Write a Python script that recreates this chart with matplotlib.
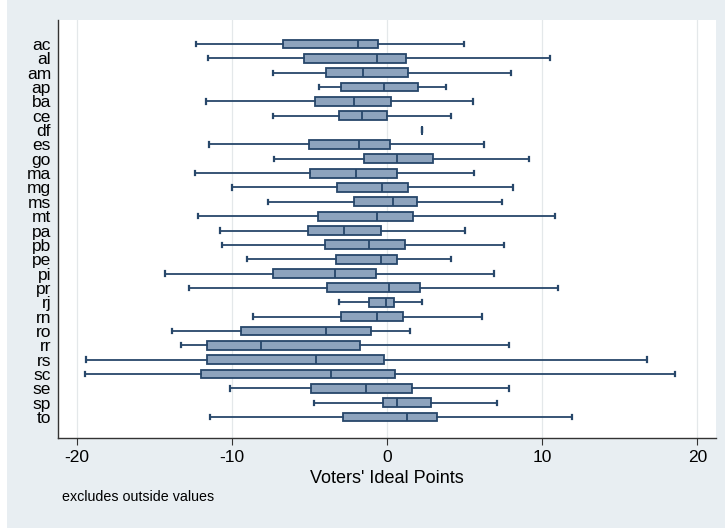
import matplotlib
matplotlib.use("Agg")
import matplotlib.pyplot as plt
from matplotlib.patches import Rectangle

plt.rcParams['font.family'] = ['Liberation Sans', 'DejaVu Sans']

states = ["ac", "al", "am", "ap", "ba", "ce", "df", "es", "go", "ma", "mg", "ms", "mt",
          "pa", "pb", "pe", "pi", "pr", "rj", "rn", "ro", "rr", "rs", "sc", "se", "sp", "to"]
whislo = [-12.3, -11.55, -7.33, -4.39, -11.68, -7.33, 2.24, -11.46, -7.29, -12.34, -9.98, -7.7, -12.19,
          -10.77, -10.6, -9.03, -14.3, -12.77, -3.12, -8.65, -13.83, -13.25, -19.42, -19.44, -10.09, -4.71, -11.4]
q1 = [-6.68, -5.35, -3.91, -2.95, -4.62, -3.12, 2.24, -5.03, -1.48, -4.95, -3.25, -2.13, -4.43,
      -5.12, -3.98, -3.29, -7.33, -3.87, -1.14, -2.99, -9.4, -11.63, -11.57, -11.97, -4.88, -0.28, -2.82]
med = [-1.89, -0.62, -1.53, -0.19, -2.13, -1.59, 2.24, -1.81, 0.65, -2.0, -0.32, 0.41, -0.67,
       -2.77, -1.18, -0.41, -3.33, 0.15, -0.09, -0.62, -3.91, -8.15, -4.58, -3.63, -1.35, 0.62, 1.27]
q3 = [-0.6, 1.2, 1.33, 1.98, 0.28, 0.0, 2.24, 0.17, 2.95, 0.67, 1.35, 1.96, 1.66,
      -0.41, 1.14, 0.67, -0.73, 2.15, 0.45, 1.03, -1.01, -1.74, -0.17, 0.54, 1.63, 2.82, 3.25]
whishi = [4.97, 10.5, 8.0, 3.83, 5.57, 4.13, 2.24, 6.22, 9.16, 5.59, 8.11, 7.44, 10.8,
          5.03, 7.53, 4.13, 6.88, 11.03, 2.24, 6.13, 1.46, 7.83, 16.77, 18.58, 7.85, 7.1, 11.89]
xticks = [-20, -10, 0, 10, 20]

bg = '#e8eef2'
fill = '#8da3bd'
edge = '#27476a'

fig = plt.figure(figsize=(7.25, 5.28), dpi=100, facecolor=bg)
fig.patches.append(Rectangle((0, 0), 7 / 725, 1, transform=fig.transFigure,
                             facecolor='white', edgecolor='none', zorder=0))
ax = fig.add_axes([58 / 725, 1 - 438 / 528, (716 - 58) / 725, (438 - 20) / 528])
ax.set_facecolor('white')

stats = []
for i, s in enumerate(states):
    stats.append(dict(label=s, whislo=whislo[i], q1=q1[i], med=med[i], q3=q3[i],
                      whishi=whishi[i], fliers=[]))
positions = list(range(len(states)))
ax.bxp(stats, positions=positions, vert=False, widths=0.62, patch_artist=True,
       showfliers=False, capwidths=0.3,
       boxprops=dict(facecolor=fill, edgecolor=edge, linewidth=1.3),
       medianprops=dict(color=edge, linewidth=1.3),
       whiskerprops=dict(color=edge, linewidth=1.3),
       capprops=dict(color=edge, linewidth=1.6))

ax.set_ylim(27.46, -1.67)
ax.set_xlim(-21.2, 21.2)
ax.set_xticks(xticks)
ax.set_xticklabels([str(t) for t in xticks], fontsize=12.5)
ax.set_yticks(positions)
ax.set_yticklabels(states, fontsize=12.5)
ax.tick_params(axis='y', length=0, pad=5)
ax.tick_params(axis='x', length=5, width=0.8, color='#333333', pad=4)
ax.xaxis.grid(True, color='#e4e8ea', linewidth=0.9)
ax.set_axisbelow(True)
for sp in ['top', 'right']:
    ax.spines[sp].set_visible(False)
for sp in ['left', 'bottom']:
    ax.spines[sp].set_color('#333333')
    ax.spines[sp].set_linewidth(1.0)

ax.set_xlabel("Voters' Ideal Points", fontsize=13, labelpad=3)
fig.text(62 / 725, 1 - 497 / 528, "excludes outside values", fontsize=10.3, va='center', ha='left')

fig.savefig("out.png", dpi=100, facecolor=bg)
